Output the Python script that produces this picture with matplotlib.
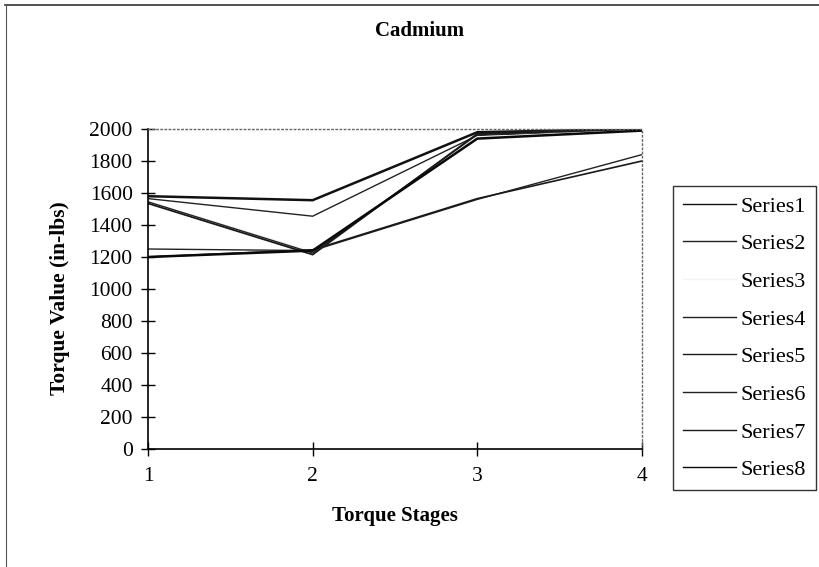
import matplotlib
matplotlib.use("Agg")
import matplotlib.pyplot as plt
from matplotlib.lines import Line2D

plt.rcParams['font.family'] = ['Liberation Serif', 'DejaVu Serif']

stages = [1, 2, 3, 4]
series1 = [1580, 1555, 1980, 2000]
series2 = [1565, 1455, 1960, 1990]
series3 = [1545, 1235, 1950, 1995]
series4 = [1545, 1225, 1965, 2000]
series5 = [1535, 1215, 1970, 2005]
series6 = [1250, 1240, 1560, 1840]
series7 = [1200, 1245, 1565, 1800]
series8 = [1200, 1240, 1940, 1990]
names = ["Series1", "Series2", "Series3", "Series4",
         "Series5", "Series6", "Series7", "Series8"]
yticks = list(range(0, 2001, 200))
xticks = [1, 2, 3, 4]

all_series = [series1, series2, series3, series4,
              series5, series6, series7, series8]
colors = ["#111111", "#222222", "#f4f4f4", "#222222",
          "#1a1a1a", "#222222", "#1a1a1a", "#0a0a0a"]
widths = [1.8, 1.0, 1.0, 1.0, 1.3, 1.0, 1.2, 1.8]

W, H = 820, 567
fig = plt.figure(figsize=(W / 100, H / 100), dpi=100)
fig.patch.set_facecolor("white")

# outer chart frame (top and left edges)
fig.add_artist(Line2D([5 / W, 1.0], [1 - 5 / H, 1 - 5 / H], color="#333333", lw=1.2))
fig.add_artist(Line2D([6 / W, 6 / W], [1 - 5 / H, 0.0], color="#555555", lw=0.8))

top, bottom = 129, 449
ax = fig.add_axes([148 / W, 1 - bottom / H, 494 / W, (bottom - top) / H])
for s, c, w in zip(all_series, colors, widths):
    ax.plot(stages, s, color=c, lw=w, solid_joinstyle="miter")

ax.set_xlim(1, 4)
ax.set_ylim(0, 2000)
ax.set_xticks(xticks)
ax.set_yticks(yticks)
ax.tick_params(axis="both", direction="inout", length=10, width=1.0,
               labelsize=15.5, colors="black")
ax.tick_params(axis="x", pad=8)
ax.tick_params(axis="y", pad=6)

ax.spines["left"].set_linewidth(1.2)
ax.spines["bottom"].set_linewidth(1.2)
for side in ("top", "right"):
    ax.spines[side].set_linestyle((0, (1, 2)))
    ax.spines[side].set_color("#666666")
    ax.spines[side].set_linewidth(1.0)

ax.set_xlabel("Torque Stages", fontsize=15, fontweight="bold")
ax.xaxis.set_label_coords(0.5, (bottom - 506) / (bottom - top))
ax.set_ylabel("Torque Value (in-lbs)", fontsize=15.5, fontweight="bold")
ax.yaxis.set_label_coords((70 - 148) / 494, (bottom - 298) / (bottom - top))
fig.text(420 / W, 1 - 31 / H, "Cadmium", ha="center", va="center",
         fontsize=15, fontweight="bold")

handles = [Line2D([], [], color=c, lw=1.0) for c in colors]
leg = fig.legend(handles, names, loc="upper left",
                 bbox_to_anchor=(673 / W, 1 - 186 / H),
                 fontsize=16, frameon=True, fancybox=False,
                 handlelength=2.4, handletextpad=0.2,
                 labelspacing=0.77, borderpad=0.45, borderaxespad=0)
leg.get_frame().set_edgecolor("black")
leg.get_frame().set_linewidth(1.0)

fig.savefig("out.png", dpi=100)
